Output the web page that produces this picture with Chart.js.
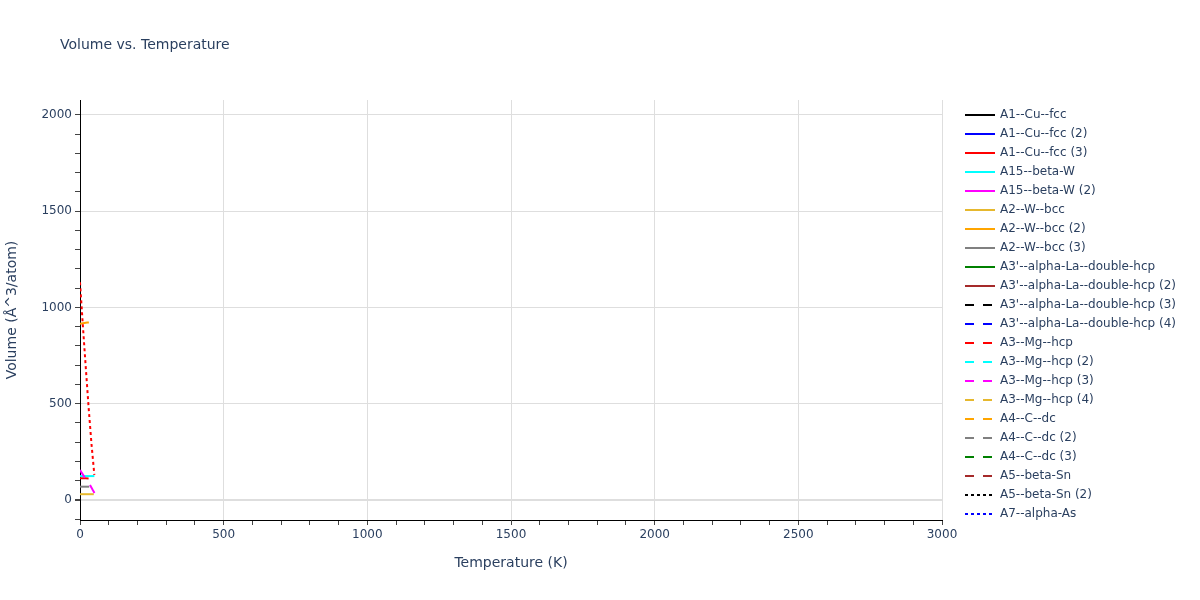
<!DOCTYPE html>
<html>
<head>
<meta charset="utf-8">
<title>Volume vs. Temperature</title>
<script src="https://cdn.jsdelivr.net/npm/chart.js@4.4.1/dist/chart.umd.min.js"></script>
<style>
  html, body { margin: 0; padding: 0; background: #fff; }
  #wrap { width: 1200px; height: 600px; }
</style>
</head>
<body>
<div id="wrap"><canvas id="chart" width="1200" height="600"></canvas></div>
<script>
// series names, in legend order
const seriesNames = [
    'A1--Cu--fcc', 'A1--Cu--fcc (2)', 'A1--Cu--fcc (3)',
    'A15--beta-W', 'A15--beta-W (2)',
    'A2--W--bcc', 'A2--W--bcc (2)', 'A2--W--bcc (3)',
    "A3'--alpha-La--double-hcp", "A3'--alpha-La--double-hcp (2)",
    "A3'--alpha-La--double-hcp (3)", "A3'--alpha-La--double-hcp (4)",
    'A3--Mg--hcp', 'A3--Mg--hcp (2)', 'A3--Mg--hcp (3)', 'A3--Mg--hcp (4)',
    'A4--C--dc', 'A4--C--dc (2)', 'A4--C--dc (3)',
    'A5--beta-Sn', 'A5--beta-Sn (2)',
    'A7--alpha-As', 'A7--alpha-As (2)'
];
// the last series is plotted but does not fit into the legend
const legendCount = 22;

// temperatures (K) and volumes (Å^3/atom)
const tempA1CuFcc3 = [0, 10, 20, 30];
const volA1CuFcc3 = [113, 113, 113, 112];
const tempA15BetaW = [0, 10, 20, 30, 40, 50];
const volA15BetaW = [124, 124, 124, 124, 124, 124];
const tempA2WBcc = [0, 10, 20, 30, 40, 48];
const volA2WBcc = [30, 30, 30, 30, 30, 30];
const tempA2WBcc3 = [0, 10, 20, 32];
const volA2WBcc3 = [69, 69, 69, 69];
const tempA3MgHcp3 = [0, 15, 30, 45, 55];
const volA3MgHcp3 = [155, 120, 90, 50, 25];
const tempA4CDc = [0, 25, 50];
const volA4CDc = [915, 922, 922];
const tempA7AlphaAs2 = [0, 10, 20, 30, 40, 50];
const volA7AlphaAs2 = [1130, 905, 690, 480, 290, 130];

const seriesTemps = {
    'A1--Cu--fcc (3)': tempA1CuFcc3,
    'A15--beta-W': tempA15BetaW,
    'A2--W--bcc': tempA2WBcc,
    'A2--W--bcc (3)': tempA2WBcc3,
    'A3--Mg--hcp (3)': tempA3MgHcp3,
    'A4--C--dc': tempA4CDc,
    'A7--alpha-As (2)': tempA7AlphaAs2
};
const seriesVols = {
    'A1--Cu--fcc (3)': volA1CuFcc3,
    'A15--beta-W': volA15BetaW,
    'A2--W--bcc': volA2WBcc,
    'A2--W--bcc (3)': volA2WBcc3,
    'A3--Mg--hcp (3)': volA3MgHcp3,
    'A4--C--dc': volA4CDc,
    'A7--alpha-As (2)': volA7AlphaAs2
};

const xTicks = [];
for (let v = 0; v <= 3000; v += 100) xTicks.push(v);
const yTicks = [];
for (let v = -100; v <= 2000; v += 100) yTicks.push(v);

// styles
const palette = ['#000000', '#0000ff', '#ff0000', '#00ffff', '#ff00ff',
                 '#e6b82e', '#ffa500', '#808080', '#008000', '#a52a2a'];
const dashes = [[], [9, 9], [3, 3]];
const textColor = '#2a3f5f';
const gridColor = '#dedede';
const fontFamily = '"DejaVu Sans", Verdana, sans-serif';

const datasets = seriesNames.map((name, i) => {
    const t = seriesTemps[name] || [];
    const v = seriesVols[name] || [];
    return {
        label: name,
        data: t.map((x, k) => ({ x: x, y: v[k] })),
        borderColor: palette[i % 10],
        backgroundColor: palette[i % 10],
        borderDash: dashes[Math.floor(i / 10)],
        borderWidth: 2,
        pointRadius: 0,
        tension: 0,
        fill: false,
        order: -i
    };
});

const extraText = {
    id: 'extraText',
    afterDraw(chart) {
        const ctx = chart.ctx;
        ctx.save();
        ctx.fillStyle = textColor;
        ctx.textBaseline = 'middle';
        ctx.textAlign = 'left';
        ctx.font = '14px ' + fontFamily;
        ctx.fillText('Volume vs. Temperature', 60, 45);

        ctx.font = '12px ' + fontFamily;
        for (let i = 0; i < legendCount; i++) {
            const ds = chart.data.datasets[i];
            const y = 115 + i * 19;
            ctx.beginPath();
            ctx.strokeStyle = ds.borderColor;
            ctx.lineWidth = 2;
            ctx.setLineDash(ds.borderDash);
            ctx.moveTo(965, y);
            ctx.lineTo(995, y);
            ctx.stroke();
            ctx.setLineDash([]);
            ctx.fillStyle = textColor;
            ctx.fillText(ds.label, 1000, y);
        }
        ctx.restore();
    }
};

new Chart(document.getElementById('chart'), {
    type: 'line',
    data: { datasets: datasets },
    plugins: [extraText],
    options: {
        responsive: false,
        animation: false,
        devicePixelRatio: 1,
        layout: { padding: { top: 100, right: 258, bottom: 24, left: 0 } },
        plugins: {
            legend: { display: false },
            title: { display: false },
            tooltip: { enabled: false }
        },
        scales: {
            x: {
                type: 'linear',
                min: 0,
                max: 3000,
                afterFit: (scale) => { scale.height = 56; },
                afterBuildTicks: (scale) => { scale.ticks = xTicks.map(v => ({ value: v })); },
                ticks: {
                    autoSkip: false,
                    maxRotation: 0,
                    padding: 3,
                    color: textColor,
                    font: { family: fontFamily, size: 12 },
                    callback: (v) => (v % 500 === 0 ? String(v) : '')
                },
                grid: {
                    color: (c) => (c.tick && c.tick.value % 500 === 0 ? gridColor : 'rgba(0,0,0,0)'),
                    tickColor: '#444',
                    tickLength: 5
                },
                border: { display: true, color: '#000', width: 1 },
                title: {
                    display: true,
                    text: 'Temperature (K)',
                    color: textColor,
                    font: { family: fontFamily, size: 14 },
                    padding: { top: 4, bottom: 4 }
                }
            },
            y: {
                type: 'linear',
                min: -104,
                max: 2077,
                afterFit: (scale) => { scale.width = 80; },
                afterBuildTicks: (scale) => { scale.ticks = yTicks.map(v => ({ value: v })); },
                ticks: {
                    autoSkip: false,
                    padding: 3,
                    color: textColor,
                    font: { family: fontFamily, size: 12 },
                    callback: (v) => (v % 500 === 0 ? String(v) : '')
                },
                grid: {
                    color: (c) => (c.tick && c.tick.value % 500 === 0 ? gridColor : 'rgba(0,0,0,0)'),
                    lineWidth: (c) => (c.tick && c.tick.value === 0 ? 2 : 1),
                    tickColor: '#444',
                    tickLength: 5
                },
                border: { display: true, color: '#000', width: 1 },
                title: {
                    display: true,
                    text: 'Volume (Å^3/atom)',
                    color: textColor,
                    font: { family: fontFamily, size: 14 },
                    padding: { top: 4, bottom: 4 }
                }
            }
        }
    }
});
</script>
</body>
</html>
